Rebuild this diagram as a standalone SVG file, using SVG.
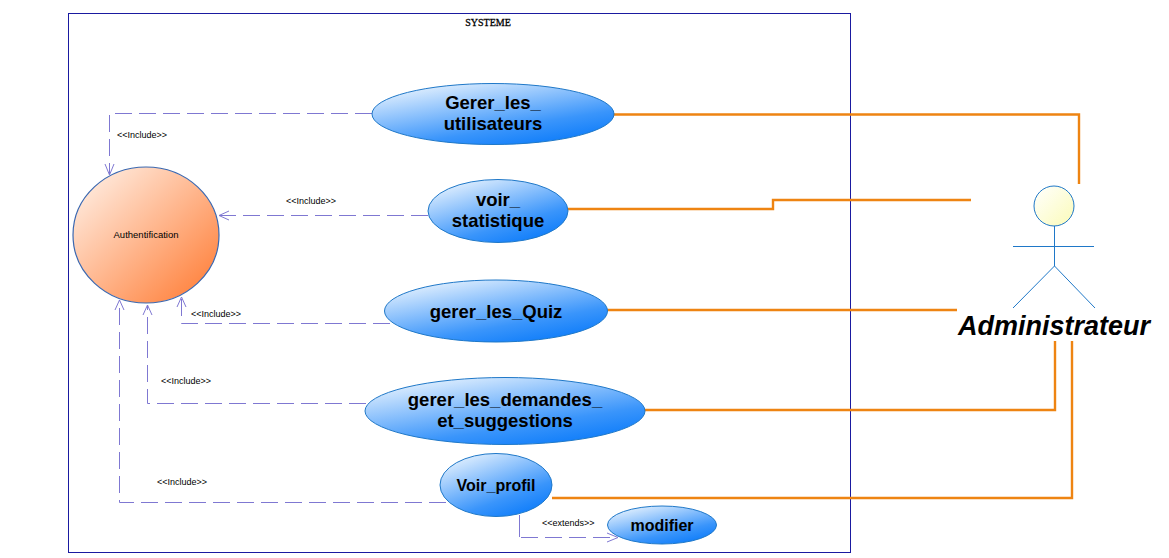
<svg xmlns="http://www.w3.org/2000/svg" width="1169" height="558" viewBox="0 0 1169 558">
<style>
.uc{stroke:#1f78c8;stroke-width:1;fill:url(#blue)}
.t{font-family:"Liberation Sans",Arial,sans-serif;font-weight:bold;font-size:18.500px;fill:#000;text-anchor:middle}
.s{font-family:"Liberation Sans",Arial,sans-serif;font-size:9px;fill:#000}
.d{fill:none;stroke:#7f78d2;stroke-width:1;stroke-dasharray:17 7}
.h{fill:none;stroke:#7f78d2;stroke-width:1}
.o{fill:none;stroke:#ee8412;stroke-width:2.4}
.a{fill:none;stroke:#1f78c8;stroke-width:1}
</style>
<defs>
<linearGradient id="blue" x1="0.1" y1="0.05" x2="0.72" y2="1"><stop offset="0" stop-color="#eaf4fe"/><stop offset="0.72" stop-color="#3a95fb"/><stop offset="1" stop-color="#0f7dfa"/></linearGradient>
<linearGradient id="or" x1="0" y1="0" x2="1" y2="1"><stop offset="0.05" stop-color="#fff0e6"/><stop offset="0.85" stop-color="#ff8a4a"/></linearGradient>
<linearGradient id="ye" x1="0" y1="0" x2="1" y2="1"><stop offset="0" stop-color="#ffffff"/><stop offset="1" stop-color="#fbfbb8"/></linearGradient>
</defs>
<rect width="1169" height="558" fill="#fff"/>
<g id="system"><rect x="68.500" y="13.500" width="782" height="539" fill="#fff" stroke="#1a1aa0" stroke-width="1"/><text x="488" y="26" font-family="'Liberation Serif',serif" font-size="10" text-anchor="middle" stroke="#000" stroke-width="0.3">SYSTEME</text></g>
<g id="connectors">
<path class="o" d="M612 114.500H1079V184"/>
<path class="o" d="M566 209H773V200H971"/>
<path class="o" d="M607 310H957"/>
<path class="o" d="M644 410H1055V341"/>
<path class="o" d="M552 498H1072V341"/>
<path class="d" d="M372 113.500H109.500V174"/>
<path class="h" d="M105 164L109.500 175L114 164"/>
<path class="d" d="M428 215.500H219"/>
<path class="h" d="M229 211L219 215.500L229 220"/>
<path class="d" d="M390 323.500H181.500V297"/>
<path class="h" d="M177 307L181.500 297L186 307"/>
<path class="d" d="M366 403.500H147.500V305"/>
<path class="h" d="M143 315L147.500 305L152 315"/>
<path class="d" d="M446 502.500H119.500V300"/>
<path class="h" d="M115 310L119.500 300L124 310"/>
<path class="h" d="M519.500 515V537"/>
<path class="d" d="M521 537.500H617"/>
<path class="h" d="M607 533L618 537.500L607 542"/>
<text class="s" x="117" y="138">&lt;&lt;Include&gt;&gt;</text>
<text class="s" x="286" y="204">&lt;&lt;Include&gt;&gt;</text>
<text class="s" x="191" y="317">&lt;&lt;Include&gt;&gt;</text>
<text class="s" x="161" y="384">&lt;&lt;Include&gt;&gt;</text>
<text class="s" x="157" y="485">&lt;&lt;Include&gt;&gt;</text>
<text class="s" x="542" y="526">&lt;&lt;extends&gt;&gt;</text>
</g>
<g id="auth"><ellipse cx="146" cy="235" rx="73" ry="68" fill="url(#or)" stroke="#3b68b0" stroke-width="1.200"/><text x="146" y="238" text-anchor="middle" font-family="'Liberation Sans',sans-serif" font-size="9.500">Authentification</text></g>
<g id="uc1"><ellipse class="uc" cx="493" cy="114" rx="121" ry="30.500"/><text class="t" x="493" y="109">Gerer_les_</text><text class="t" x="493" y="130">utilisateurs</text></g>
<g id="uc2"><ellipse class="uc" cx="498" cy="211" rx="70" ry="31.500"/><text class="t" x="498" y="206">voir_</text><text class="t" x="498" y="227">statistique</text></g>
<g id="uc3"><ellipse class="uc" cx="496" cy="311" rx="111.500" ry="31"/><text class="t" x="496" y="318">gerer_les_Quiz</text></g>
<g id="uc4"><ellipse class="uc" cx="505" cy="411" rx="140" ry="33.500"/><text class="t" x="505" y="406">gerer_les_demandes_</text><text class="t" x="505" y="427">et_suggestions</text></g>
<g id="uc5"><ellipse class="uc" cx="496" cy="485" rx="56" ry="31.500"/><text class="t" x="496" y="491" style="font-size:16px">Voir_profil</text></g>
<g id="uc6"><ellipse class="uc" cx="662" cy="525" rx="54.500" ry="19"/><text class="t" x="662" y="531" style="font-size:16px">modifier</text></g>
<g id="actor">
<circle cx="1054" cy="206" r="20" fill="url(#ye)" stroke="#1f78c8"/>
<path class="a" d="M1054.500 226V266M1013 246.500H1094M1054.500 266L1013 308M1054.500 266L1095 308"/>
<text x="1054" y="335" text-anchor="middle" font-family="'Liberation Sans',sans-serif" font-weight="bold" font-style="italic" font-size="27">Administrateur</text>
</g>
</svg>
